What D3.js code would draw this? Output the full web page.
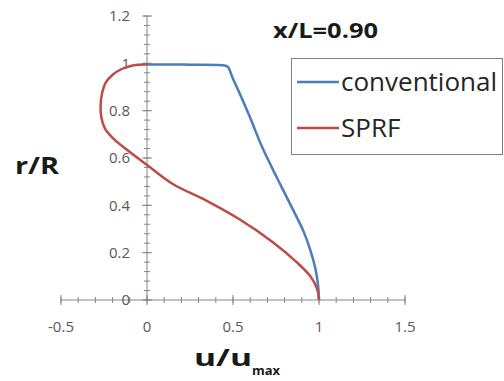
<!DOCTYPE html>
<html>
<head>
<meta charset="utf-8">
<script src="https://cdn.jsdelivr.net/npm/d3@7"></script>
<style>
  body { margin: 0; background: #fff; }
  svg text { font-family: "Open Sans", sans-serif; }
</style>
</head>
<body>
<script>
// Data
const convU = [0, 0.1, 0.2, 0.3, 0.4, 0.45, 0.47, 0.5, 0.55, 0.6, 0.67, 0.76, 0.85, 0.91, 0.95, 0.98, 0.995, 1.0];
const convR = [0.995, 0.995, 0.995, 0.994, 0.993, 0.991, 0.985, 0.935, 0.855, 0.77, 0.645, 0.51, 0.38, 0.29, 0.21, 0.13, 0.06, 0];

const sprfU = [0, -0.05, -0.1, -0.15, -0.2, -0.24, -0.26, -0.27, -0.265, -0.245, -0.2, -0.1, 0.01, 0.15, 0.345, 0.54, 0.73, 0.87, 0.95, 0.99, 1.0];
const sprfR = [0.995, 0.994, 0.988, 0.975, 0.952, 0.918, 0.878, 0.82, 0.77, 0.725, 0.685, 0.625, 0.565, 0.49, 0.42, 0.34, 0.245, 0.16, 0.1, 0.045, 0];

const xTicks = [-0.5, 0, 0.5, 1, 1.5];
const yTicks = [0, 0.2, 0.4, 0.6, 0.8, 1, 1.2];
const seriesNames = ["conventional", "SPRF"];
const seriesColors = ["#4a7ebb", "#be4b48"];
const title = "x/L=0.90";

const width = 504, height = 381;

const svg = d3.select("body").append("svg")
    .attr("width", width)
    .attr("height", height);

const x = d3.scaleLinear().domain([-0.5, 1.5]).range([61, 405]);
const y = d3.scaleLinear().domain([0, 1.2]).range([300, 16]);

const axisColor = "#868686";
const labelColor = "#595959";

// x axis line + ticks (crossing the line)
svg.append("line")
    .attr("x1", x(-0.5)).attr("x2", x(1.5))
    .attr("y1", y(0)).attr("y2", y(0))
    .attr("stroke", axisColor).attr("stroke-width", 1);

const xMinor = d3.range(-0.5, 1.5001, 0.1);
svg.append("g").selectAll("line")
    .data(xMinor)
    .enter().append("line")
    .attr("x1", d => x(d)).attr("x2", d => x(d))
    .attr("y1", y(0) - 3).attr("y2", y(0) + 3)
    .attr("stroke", axisColor);

svg.append("g").selectAll("line")
    .data(xTicks)
    .enter().append("line")
    .attr("x1", d => x(d)).attr("x2", d => x(d))
    .attr("y1", y(0) - 5).attr("y2", y(0) + 5)
    .attr("stroke", axisColor);

svg.append("g").selectAll("text")
    .data(xTicks)
    .enter().append("text")
    .attr("x", d => x(d))
    .attr("y", 332)
    .attr("text-anchor", "middle")
    .attr("font-size", 15)
    .attr("fill", labelColor)
    .text(d => d);

// y axis line + ticks
svg.append("line")
    .attr("x1", x(0)).attr("x2", x(0))
    .attr("y1", y(0)).attr("y2", y(1.2))
    .attr("stroke", axisColor).attr("stroke-width", 1);

const yMinor = d3.range(0, 1.2001, 0.04);
svg.append("g").selectAll("line")
    .data(yMinor)
    .enter().append("line")
    .attr("x1", x(0) - 3).attr("x2", x(0) + 3)
    .attr("y1", d => y(d)).attr("y2", d => y(d))
    .attr("stroke", axisColor);

svg.append("g").selectAll("line")
    .data(yTicks)
    .enter().append("line")
    .attr("x1", x(0) - 5).attr("x2", x(0) + 5)
    .attr("y1", d => y(d)).attr("y2", d => y(d))
    .attr("stroke", axisColor);

svg.append("g").selectAll("text")
    .data(yTicks)
    .enter().append("text")
    .attr("x", 130)
    .attr("y", d => y(d))
    .attr("dy", "0.36em")
    .attr("text-anchor", "end")
    .attr("font-size", 15)
    .attr("fill", labelColor)
    .text(d => d);

// curves
const line = d3.line()
    .x(d => x(d[0]))
    .y(d => y(d[1]))
    .curve(d3.curveCatmullRom.alpha(0.5));

const series = [
    convU.map((u, i) => [u, convR[i]]),
    sprfU.map((u, i) => [u, sprfR[i]])
];

svg.append("g").selectAll("path")
    .data(series)
    .enter().append("path")
    .attr("d", line)
    .attr("fill", "none")
    .attr("stroke", (d, i) => seriesColors[i])
    .attr("stroke-width", 2.5)
    .attr("stroke-linejoin", "round");

// title
svg.append("text")
    .attr("x", 273).attr("y", 38)
    .attr("font-size", 21)
    .attr("font-weight", "bold")
    .attr("fill", "#1a1a1a")
    .attr("textLength", 105)
    .attr("lengthAdjust", "spacingAndGlyphs")
    .text(title);

// axis titles
svg.append("text")
    .attr("x", 15).attr("y", 174)
    .attr("font-size", 24)
    .attr("font-weight", "bold")
    .attr("fill", "#1a1a1a")
    .attr("textLength", 44)
    .attr("lengthAdjust", "spacingAndGlyphs")
    .text("r/R");

const xt = svg.append("text")
    .attr("x", 194).attr("y", 366)
    .attr("font-weight", "bold")
    .attr("fill", "#1a1a1a");
xt.append("tspan")
    .attr("font-size", 24)
    .attr("textLength", 58)
    .attr("lengthAdjust", "spacingAndGlyphs")
    .text("u/u");
xt.append("tspan")
    .attr("font-size", 13)
    .attr("dy", 9)
    .text("max");

// legend
const legend = svg.append("g");
legend.append("rect")
    .attr("x", 291.5).attr("y", 58.5)
    .attr("width", 211).attr("height", 96)
    .attr("fill", "#fff")
    .attr("stroke", "#7f7f7f");

const legendRows = legend.selectAll("g.row")
    .data(seriesNames)
    .enter().append("g")
    .attr("class", "row")
    .attr("transform", (d, i) => `translate(0, ${82 + i * 46})`);

legendRows.append("line")
    .attr("x1", 297).attr("x2", 339)
    .attr("stroke", (d, i) => seriesColors[i])
    .attr("stroke-width", 2.5);

legendRows.append("text")
    .attr("x", 341)
    .attr("dy", "0.36em")
    .attr("font-size", 26)
    .attr("fill", "#262626")
    .text(d => d);
</script>
</body>
</html>
